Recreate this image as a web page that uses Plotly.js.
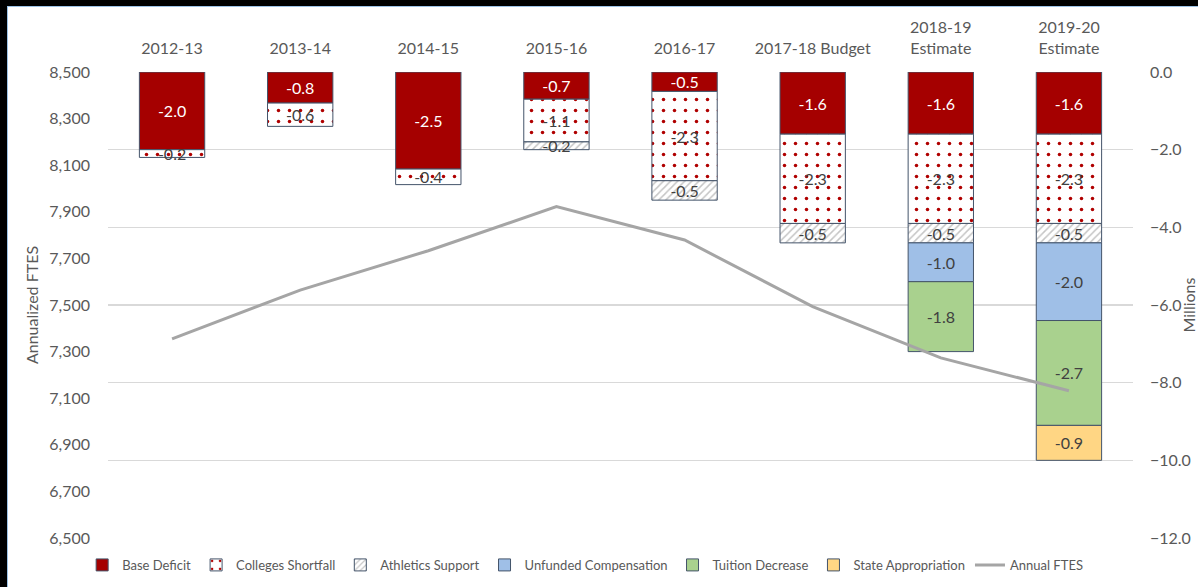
<!DOCTYPE html>
<html>
<head>
<meta charset="utf-8">
<script src="https://cdn.plot.ly/plotly-3.0.1.min.js"></script>
<style>
  html, body { margin: 0; padding: 0; background: #000; width: 1198px; height: 587px; overflow: hidden; }
  #frame { position: absolute; left: 7px; top: 6px; width: 1190px; height: 580px; background: #fff; border-left: 1px solid #9DC3E6; border-top: 1px solid #9DC3E6; }
  #chart { width: 1190px; height: 580px; }
</style>
</head>
<body>
<div id="frame"><div id="chart"></div></div>
<script>
const categories = ["2012-13", "2013-14", "2014-15", "2015-16", "2016-17", "2017-18 Budget", "2018-19<br>Estimate", "2019-20<br>Estimate"];
const baseDeficit = [-2.0, -0.8, -2.5, -0.7, -0.5, -1.6, -1.6, -1.6];
const collegesShortfall = [-0.2, -0.6, -0.4, -1.1, -2.3, -2.3, -2.3, -2.3];
const athleticsSupport = [null, null, null, -0.2, -0.5, -0.5, -0.5, -0.5];
const unfundedCompensation = [null, null, null, null, null, null, -1.0, -2.0];
const tuitionDecrease = [null, null, null, null, null, null, -1.8, -2.7];
const stateAppropriation = [null, null, null, null, null, null, null, -0.9];
const annualFTES = [7355, 7564, 7733, 7922, 7779, 7493, 7273, 7132];

const FONT = "Lato, 'Open Sans', sans-serif";
const outline = {color: "#44546A", width: 1};

function barTrace(name, values, fill, textColor, pattern) {
  const marker = {color: fill, line: outline};
  if (pattern) marker.pattern = pattern;
  return {
    type: "bar", name: name, x: categories, y: values,
    xaxis: "x", yaxis: "y",
    marker: marker,
    texttemplate: "%{y:.1f}",
    textposition: "inside",
    insidetextanchor: "middle",
    textangle: 0,
    constraintext: "none",
    textfont: {family: FONT, size: 16, color: textColor},
    hoverinfo: "skip"
  };
}

const traces = [
  barTrace("Base Deficit", baseDeficit, "#A50000", "#FFFFFF"),
  barTrace("Colleges Shortfall", collegesShortfall, "#FFFFFF", "#404040",
    {shape: ".", fgcolor: "#B00000", fgopacity: 1, bgcolor: "#FFFFFF", size: 11, solidity: 0.08, fillmode: "overlay"}),
  barTrace("Athletics Support", athleticsSupport, "#FFFFFF", "#404040",
    {shape: "/", fgcolor: "#8C8C8C", bgcolor: "#FFFFFF", size: 5, solidity: 0.3, fillmode: "overlay"}),
  barTrace("Unfunded Compensation", unfundedCompensation, "#9FBFE7", "#404040"),
  barTrace("Tuition Decrease", tuitionDecrease, "#A9D18E", "#404040"),
  barTrace("State Appropriation", stateAppropriation, "#FFD684", "#404040"),
  {
    type: "scatter", mode: "lines", name: "Annual FTES",
    x: categories, y: annualFTES, xaxis: "x", yaxis: "y2",
    line: {color: "#A5A5A5", width: 3},
    hoverinfo: "skip"
  }
];

const layout = {
  width: 1190, height: 580,
  margin: {l: 100, r: 65, t: 65, b: 49, autoexpand: false},
  paper_bgcolor: "#FFFFFF", plot_bgcolor: "#FFFFFF",
  font: {family: FONT, color: "#595959", size: 16},
  barmode: "relative",
  bargap: 0.49,
  showlegend: true,
  legend: {
    orientation: "h", xref: "container", yref: "container",
    x: 0.485, xanchor: "center", y: 0.038, yanchor: "middle",
    font: {family: FONT, size: 13, color: "#595959"},
    traceorder: "normal", itemwidth: 30, tracegroupgap: 0
  },
  xaxis: {
    type: "category", side: "top", showgrid: false, showline: false, zeroline: false,
    ticks: "", ticklabelstandoff: 14, tickfont: {family: FONT, size: 16, color: "#595959"}, anchor: "y"
  },
  yaxis: {
    side: "right", range: [-12, 0], dtick: 2, tickformat: ".1f",
    showgrid: true, gridcolor: "#D9D9D9", gridwidth: 1.5, zeroline: false, showline: false,
    ticks: "", ticklabelstandoff: 16, tickfont: {family: FONT, size: 16, color: "#595959"},
    title: {text: "Millions", font: {family: FONT, size: 16, color: "#595959"}, standoff: 0}
  },
  yaxis2: {
    side: "left", overlaying: "y", range: [6500, 8500], tick0: 6500, dtick: 200, tickformat: ",d",
    showgrid: false, zeroline: false, showline: false,
    ticks: "", ticklabelstandoff: 17, tickfont: {family: FONT, size: 16, color: "#595959"},
    title: {text: "Annualized FTES", font: {family: FONT, size: 16, color: "#595959"}, standoff: 6}
  }
};

Plotly.newPlot("chart", traces, layout, {displayModeBar: false, staticPlot: true});
</script>
</body>
</html>
